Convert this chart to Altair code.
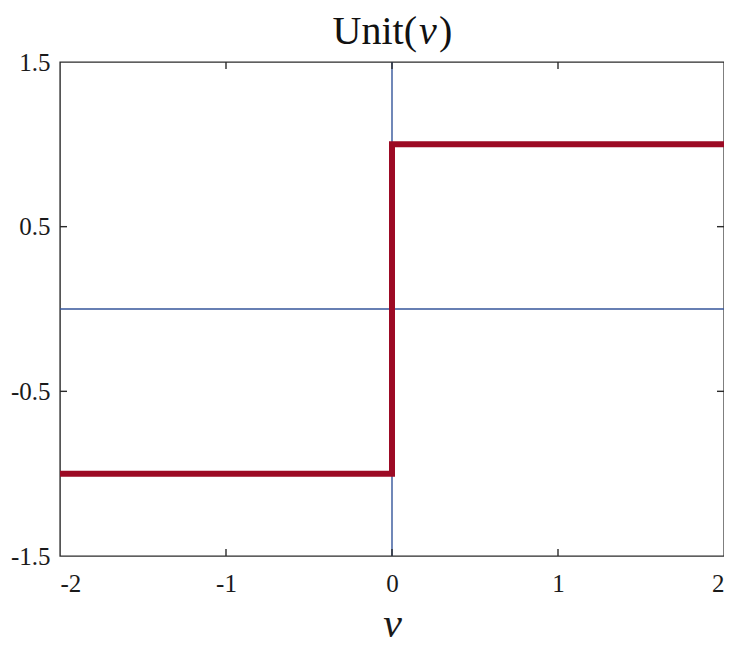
import altair as alt
import pandas as pd

# ---- data ----
step_x = [-2, 0, 0, 2]
step_y = [-1, -1, 1, 1]
x_ticks = [-2, -1, 0, 1, 2]
y_ticks = [-1.5, -0.5, 0.5, 1.5]
x_minor_ticks = [-1, 0, 1]
y_minor_ticks = [-0.5, 0.5]
zero_x = [0]
zero_y = [0]
title_parts = ["Unit(", "v", ")"]
x_title = "v"

W, H = 664, 494
FONT = "'Liberation Serif', 'Times New Roman', 'DejaVu Serif', serif"
RED = "#9c0a24"
BLUE = "#34559a"
FRAME = "#2b2b2b"

xs = alt.Scale(domain=[-2, 2], nice=False, zero=False)
ys = alt.Scale(domain=[-1.5, 1.5], nice=False, zero=False)

step_df = pd.DataFrame({"x": step_x, "y": step_y, "o": list(range(len(step_x)))})

step = alt.Chart(step_df).mark_line(
    color=RED, strokeWidth=6, strokeJoin="miter", strokeCap="butt"
).encode(
    x=alt.X("x:Q", scale=xs, axis=alt.Axis(
        values=x_ticks, labelExpr="'' + datum.value", domain=False, ticks=False, grid=False,
        labelFont=FONT, labelFontSize=25, labelColor="#1a1a1a", labelPadding=15,
        title=x_title, titleFont=FONT, titleFontStyle="italic", titleFontSize=42,
        titleFontWeight="normal", titleColor="#1a1a1a", titleBaseline="alphabetic", titleY=80,
    )),
    y=alt.Y("y:Q", scale=ys, axis=alt.Axis(
        values=y_ticks, labelExpr="'' + datum.value", domain=False, ticks=False, grid=False,
        labelFont=FONT, labelFontSize=25, labelColor="#1a1a1a", labelPadding=10, title=None,
    )),
    order="o:O",
)

vline = alt.Chart(pd.DataFrame({"x": zero_x})).mark_rule(color=BLUE, strokeWidth=1.4).encode(
    x=alt.X("x:Q", scale=xs)
)
hline = alt.Chart(pd.DataFrame({"y": zero_y})).mark_rule(color=BLUE, strokeWidth=1.4).encode(
    y=alt.Y("y:Q", scale=ys)
)

xt = pd.DataFrame({"x": x_minor_ticks})
yt = pd.DataFrame({"y": y_minor_ticks})
tick_style = dict(color=FRAME, strokeWidth=1.4)
bottom_ticks = alt.Chart(xt).mark_rule(**tick_style).encode(
    x=alt.X("x:Q", scale=xs), y=alt.value(H), y2=alt.value(H - 7))
top_ticks = alt.Chart(xt).mark_rule(**tick_style).encode(
    x=alt.X("x:Q", scale=xs), y=alt.value(0), y2=alt.value(7))
left_ticks = alt.Chart(yt).mark_rule(**tick_style).encode(
    y=alt.Y("y:Q", scale=ys), x=alt.value(0), x2=alt.value(7))
right_ticks = alt.Chart(yt).mark_rule(**tick_style).encode(
    y=alt.Y("y:Q", scale=ys), x=alt.value(W), x2=alt.value(W - 7))

TY = -18
t1 = alt.Chart(pd.DataFrame({"t": [title_parts[0]]})).mark_text(
    font=FONT, fontSize=40, align="right", baseline="alphabetic", color="#111"
).encode(text="t:N", x=alt.value(357), y=alt.value(TY))
t2 = alt.Chart(pd.DataFrame({"t": [title_parts[1]]})).mark_text(
    font=FONT, fontSize=40, fontStyle="italic", align="left", baseline="alphabetic", color="#111"
).encode(text="t:N", x=alt.value(359), y=alt.value(TY))
t3 = alt.Chart(pd.DataFrame({"t": [title_parts[2]]})).mark_text(
    font=FONT, fontSize=40, align="left", baseline="alphabetic", color="#111"
).encode(text="t:N", x=alt.value(379), y=alt.value(TY))

chart = alt.layer(
    vline, hline, step, bottom_ticks, top_ticks, left_ticks, right_ticks, t1, t2, t3
).properties(
    width=W, height=H,
    autosize=alt.AutoSizeParams(type="none"),
    padding={"left": 52, "top": 54, "right": 0, "bottom": 89},
).configure(
    background="white"
).configure_view(
    stroke=FRAME, strokeWidth=1.4
)

chart.save("out.html", embed_options={"renderer": "svg", "actions": False})
